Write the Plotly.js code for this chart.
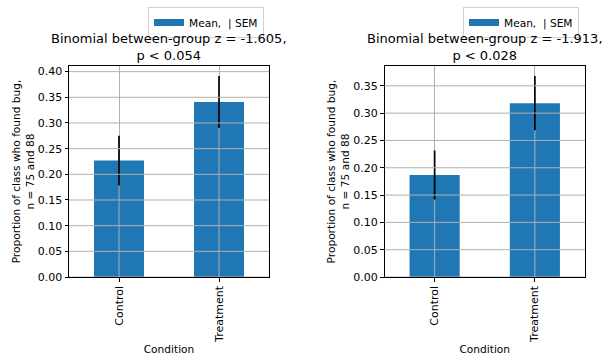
<!DOCTYPE html>
<html><head><meta charset="utf-8">
<script src="https://cdn.plot.ly/plotly-3.0.1.min.js"></script>
<style>html,body{margin:0;padding:0;background:#fff}#c{width:609px;height:360px}</style>
</head><body><div id="c"></div>
<script>
const categories = ["Control", "Treatment"];
const meansA = [0.2267, 0.3409];
const semA = [0.0484, 0.0505];
const meansB = [0.1867, 0.3182];
const semB = [0.0450, 0.0497];
const titlesA = ["Binomial between-group z = -1.605,", "p < 0.054"];
const titlesB = ["Binomial between-group z = -1.913,", "p < 0.028"];
const legendLabel = "Mean,\u00A0\u00A0| SEM";
const yTicks = [0, 0.05, 0.10, 0.15, 0.20, 0.25, 0.30, 0.35, 0.40];

const FONT = "DejaVu Sans, sans-serif";
const BLUE = "#1f77b4";
const GRID = "#b0b0b0";

function barTrace(means, sem, xa, ya) {
  return {type: "bar", x: categories, y: means, xaxis: xa, yaxis: ya, width: 0.5,
    marker: {color: BLUE, line: {width: 0}},
    error_y: {type: "data", array: sem, visible: true, color: "#000", thickness: 1.7, width: 0},
    showlegend: false, hoverinfo: "skip"};
}
function proxy(xa, ya, leg) {
  return {type: "scatter", mode: "lines", x: [null], y: [null], xaxis: xa, yaxis: ya,
    name: legendLabel, line: {color: BLUE, width: 7}, showlegend: true, legend: leg};
}
function topOf(m, s) { return Math.max(...m.map((v, i) => v + s[i])) * 1.05; }

const data = [barTrace(meansA, semA, "x", "y"), barTrace(meansB, semB, "x2", "y2"),
  proxy("x", "y", "legend"), proxy("x2", "y2", "legend2")];

const yDom = [1 - 277 / 360, 1 - 66 / 360];
function xax(dom) {
  return {domain: dom, range: [-0.5, 1.5], showgrid: true, gridcolor: GRID, gridwidth: 1, zeroline: false,
    showline: true, mirror: true, linecolor: "#000", linewidth: 1,
    ticks: "outside", ticklen: 3.5, tickwidth: 1, tickcolor: "#000",
    tickangle: -90, tickfont: {size: 11, color: "#000"}, fixedrange: true,
    title: {text: "Condition", font: {size: 10.6, color: "#000"}, standoff: 3}};
}
function yax(top) {
  return {domain: yDom, range: [0, top], showgrid: false, zeroline: false,
    showline: true, mirror: true, linecolor: "#000", linewidth: 1,
    ticks: "outside", ticklen: 3.5, tickwidth: 1, tickcolor: "#000",
    tickvals: yTicks, tickformat: ".2f", tickfont: {size: 11, color: "#000"},
    title: {text: "Proportion of class who found bug,<br>n = 75 and 88", font: {size: 10.6, color: "#000"}, standoff: 1}};
}

const shapes = [];
function grid(xr, yr, top, means, sem) {
  yTicks.filter(t => t <= top).forEach(t => shapes.push({type: "line", layer: "above",
    xref: xr + " domain", yref: yr, x0: 0, x1: 1, y0: t, y1: t, line: {color: GRID, width: 1}}));
  // vertical grid over the bar body, stopping where the error bar begins
  categories.forEach((c, i) => shapes.push({type: "line", layer: "above",
    xref: xr, yref: yr, x0: c, x1: c, y0: 0, y1: means[i] - sem[i], line: {color: GRID, width: 1}}));
}
const topA = topOf(meansA, semA), topB = topOf(meansB, semB);
grid("x", "y", topA, meansA, semA); grid("x2", "y2", topB, meansB, semB);

function title(t, xr, yr) {
  return {text: t.join("<br>"), xref: xr + " domain", yref: yr + " domain", x: 0.5, y: 1,
    xanchor: "center", yanchor: "bottom", yshift: 1, showarrow: false,
    font: {size: 13, color: "#000"}};
}
function legend(xr) {
  return {x: xr / 609, y: 1 - 7 / 360, xanchor: "right", yanchor: "top", xref: "paper", yref: "paper",
    bgcolor: "rgba(255,255,255,0.8)", bordercolor: "#d0d0d0", borderwidth: 1,
    font: {size: 10.6, color: "#000"}, itemwidth: 30, tracegroupgap: 0};
}

const layout = {
  width: 609, height: 360, margin: {l: 0, r: 0, t: 0, b: 0},
  paper_bgcolor: "#fff", plot_bgcolor: "#fff",
  font: {family: FONT, color: "#000"},
  xaxis: xax([69 / 609, 269 / 609]), yaxis: yax(topA),
  xaxis2: xax([384.5 / 609, 585 / 609]), yaxis2: yax(topB),
  showlegend: true,
  legend: legend(264), legend2: legend(579),
  shapes: shapes,
  annotations: [title(titlesA, "x", "y"), title(titlesB, "x2", "y2")]
};
layout.yaxis2.anchor = "x2"; layout.xaxis2.anchor = "y2";
Plotly.newPlot("c", data, layout, {staticPlot: true, displayModeBar: false});
</script></body></html>
